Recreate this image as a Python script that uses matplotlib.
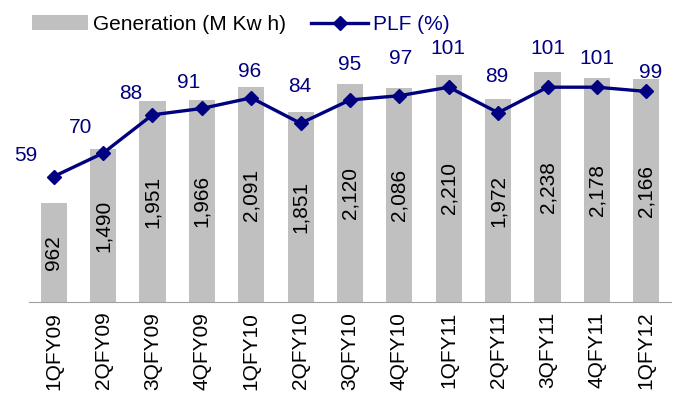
import matplotlib
matplotlib.use('Agg')
import matplotlib.pyplot as plt
from matplotlib.patches import Patch
from matplotlib.lines import Line2D

plt.rcParams['font.family'] = ['Liberation Sans', 'DejaVu Sans']

quarters = ['1QFY09', '2QFY09', '3QFY09', '4QFY09', '1QFY10', '2QFY10', '3QFY10',
            '4QFY10', '1QFY11', '2QFY11', '3QFY11', '4QFY11', '1QFY12']
generation = [962, 1490, 1951, 1966, 2091, 1851, 2120, 2086, 2210, 1972, 2238, 2178, 2166]
plf = [59, 70, 88, 91, 96, 84, 95, 97, 101, 89, 101, 101, 99]

# label offsets for PLF values, in pixels (dx, dy)
plf_offsets = [(-28, 21), (-23, 26), (-22, 21), (-13, 26), (-2, 26), (-1, 37), (0, 35),
               (1, 37), (-1, 39), (-1, 36), (0, 39), (0, 29), (4, 19)]

BAR_COLOR = '#C0C0C0'
LINE_COLOR = '#000080'
FS = 15

fig = plt.figure(figsize=(6.77, 3.97), dpi=100)
ax = fig.add_axes([29 / 677, 1 - 302 / 397, 642 / 677, 302 / 397])
ax2 = ax.twinx()

x = list(range(len(quarters)))
ax.bar(x, generation, width=0.53, color=BAR_COLOR, zorder=1)
for xi, g in zip(x, generation):
    ax.text(xi, g / 2, '{:,}'.format(g), rotation=90, ha='center', va='center',
            fontsize=FS, color='black')

ax2.plot(x, plf, color=LINE_COLOR, lw=2.4, marker='D', ms=7, mew=1, zorder=3)
for xi, p, off in zip(x, plf, plf_offsets):
    ax2.annotate(str(p), (xi, p), xytext=off, textcoords='offset pixels',
                 ha='center', va='center', fontsize=FS, color=LINE_COLOR)

ax.set_xlim(-0.5, len(quarters) - 0.5)
ax.set_ylim(0, 2938)
ax2.set_ylim(0, 142)

ax.set_xticks(x)
ax.set_xticklabels(quarters, rotation=90, fontsize=FS, va='top')
ax.tick_params(axis='x', length=0, pad=7)
ax.set_yticks([])
ax2.set_yticks([])

for a in (ax, ax2):
    for s in ('top', 'left', 'right', 'bottom'):
        a.spines[s].set_visible(False)
ax.spines['bottom'].set_visible(True)
ax.spines['bottom'].set_color('#A0A0A0')
ax.spines['bottom'].set_linewidth(0.8)

handles = [Patch(facecolor=BAR_COLOR, edgecolor='none'),
           Line2D([], [], color=LINE_COLOR, lw=2.4, marker='D', ms=7, mew=1)]
leg = fig.legend(handles, ['Generation (M Kw h)', 'PLF (%)'], loc='center left',
                 bbox_to_anchor=(32 / 677, 1 - 24.5 / 397), ncol=2, frameon=False,
                 fontsize=FS, handlelength=2.7, handleheight=0.72, handletextpad=0.25,
                 columnspacing=1.2, borderpad=0, borderaxespad=0)
leg.get_texts()[1].set_color(LINE_COLOR)

fig.savefig('out.png', dpi=100)
